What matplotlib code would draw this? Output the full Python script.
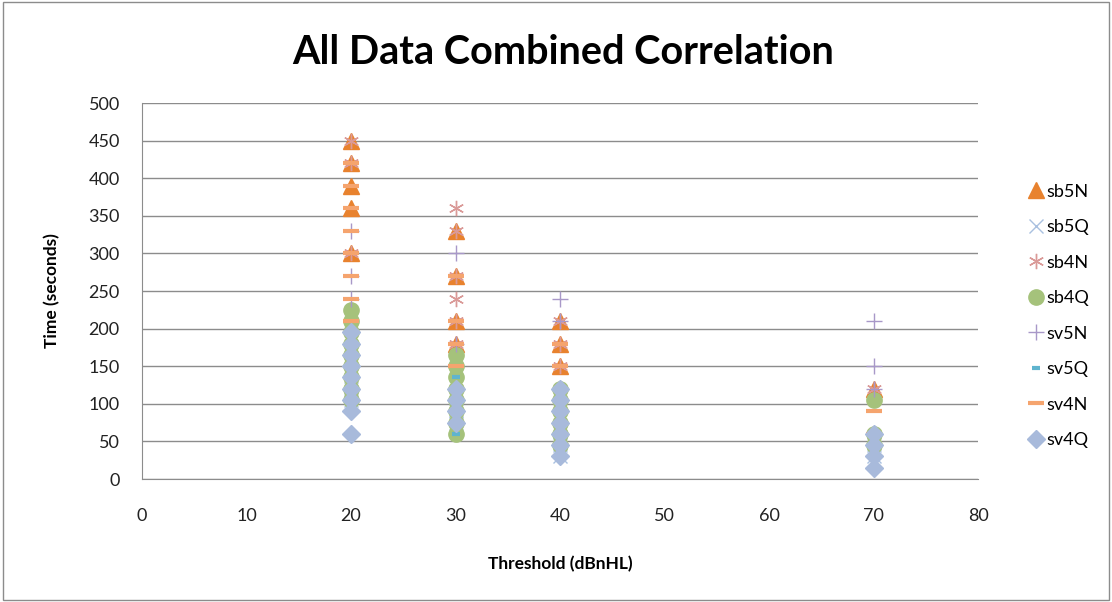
import numpy as np
import matplotlib.pyplot as plt

plt.rcParams['font.family'] = ['Lato', 'DejaVu Sans']

# -----------------------------
# Data: (threshold, time) per series
# -----------------------------
sb5N_x = [20, 20, 20, 20, 20, 30, 30, 30, 30, 40, 40, 40, 70]
sb5N_y = [450, 420, 390, 360, 300, 330, 270, 210, 180, 210, 180, 150, 120]

sb5Q_x = [20, 20, 30, 30, 40, 40, 70, 70]
sb5Q_y = [120, 105, 90, 75, 45, 30, 45, 30]

sb4N_x = [20, 20, 20, 30, 30, 30, 30, 30, 30, 40, 40, 40, 40, 70, 70]
sb4N_y = [450, 420, 300, 360, 330, 270, 240, 210, 180, 210, 180, 150, 120, 120, 60]

sb4Q_x = [20] * 9 + [30] * 8 + [40] * 6 + [70] * 3
sb4Q_y = [225, 210, 195, 180, 165, 150, 135, 120, 105,
          165, 150, 135, 120, 105, 90, 75, 60,
          120, 105, 90, 75, 60, 45,
          105, 60, 45]

sv5N_x = [20, 20, 20, 30, 30, 40, 40, 70, 70, 70]
sv5N_y = [330, 270, 240, 300, 180, 240, 210, 210, 150, 120]

sv5Q_x = [20, 20, 30, 30, 40, 70]
sv5Q_y = [105, 90, 135, 60, 45, 15]

sv4N_x = [20] * 8 + [30] * 4 + [40] * 2 + [70] * 2
sv4N_y = [420, 390, 360, 330, 300, 270, 240, 210,
          270, 210, 180, 150,
          180, 150,
          90, 60]

sv4Q_x = [20] * 9 + [30] * 4 + [40] * 7 + [70] * 4
sv4Q_y = [195, 180, 165, 150, 135, 120, 105, 90, 60,
          120, 105, 90, 75,
          120, 105, 90, 75, 60, 45, 30,
          60, 45, 30, 15]

series = [
    ('sb5N', sb5N_x, sb5N_y, dict(marker='^', ms=11, color='#E8822E', mec='#E8822E')),
    ('sb5Q', sb5Q_x, sb5Q_y, dict(marker='x', ms=10, color='#A9C0E0', mew=1.0)),
    ('sb4N', sb4N_x, sb4N_y, dict(marker=(6, 2, 0), ms=11, color='#DA9A98', mew=1.0)),
    ('sb4Q', sb4Q_x, sb4Q_y, dict(marker='o', ms=11, color='#A5C27B', mec='#A5C27B')),
    ('sv5N', sv5N_x, sv5N_y, dict(marker='+', ms=12, color='#A898C8', mew=1.0)),
    ('sv5Q', sv5Q_x, sv5Q_y, dict(marker='_', ms=6, color='#5FB4CE', mew=3)),
    ('sv4N', sv4N_x, sv4N_y, dict(marker='_', ms=12, color='#F5A46E', mew=3)),
    ('sv4Q', sv4Q_x, sv4Q_y, dict(marker='D', ms=9, color='#A8BADB', mec='#A8BADB')),
]

fig = plt.figure(figsize=(11.12, 6.02), dpi=100)
ax = fig.add_axes([0.1277, 0.2043, 0.7518, 0.6246])

for name, xs, ys, st in series:
    ax.plot(xs, ys, linestyle='none', label=name, **st)

ax.set_xlim(0, 80)
ax.set_ylim(0, 500)
ax.set_xticks(np.arange(0, 81, 10))
ax.set_yticks(np.arange(0, 501, 50))
ax.grid(axis='y', color='#8C8C8C', linewidth=1.0)
ax.set_axisbelow(True)
for s in ['top', 'right']:
    ax.spines[s].set_visible(False)
for s in ['left', 'bottom']:
    ax.spines[s].set_color('#8C8C8C')
ax.tick_params(axis='both', labelcolor='#222222', labelsize=13, length=0)
ax.tick_params(axis='x', pad=21)
ax.tick_params(axis='y', pad=16)

ax.set_xlabel('Threshold (dBnHL)', fontsize=12.5, fontweight='bold', labelpad=23)
ax.set_ylabel('Time (seconds)', fontsize=12.5, fontweight='bold', labelpad=20)
fig.suptitle('All Data Combined Correlation', fontsize=28.5, fontweight='bold',
             x=0.506, y=0.943)

fig.legend(loc='upper left', bbox_to_anchor=(0.908, 0.722), frameon=False,
           fontsize=13, labelspacing=1.08, handletextpad=0.05, handlelength=1.1,
           numpoints=1)

border = plt.Rectangle((0.003, 0.003), 0.994, 0.994, transform=fig.transFigure,
                       fill=False, edgecolor='#8C8C8C', linewidth=1.0)
fig.patches.append(border)

fig.savefig('out.png', dpi=100)
